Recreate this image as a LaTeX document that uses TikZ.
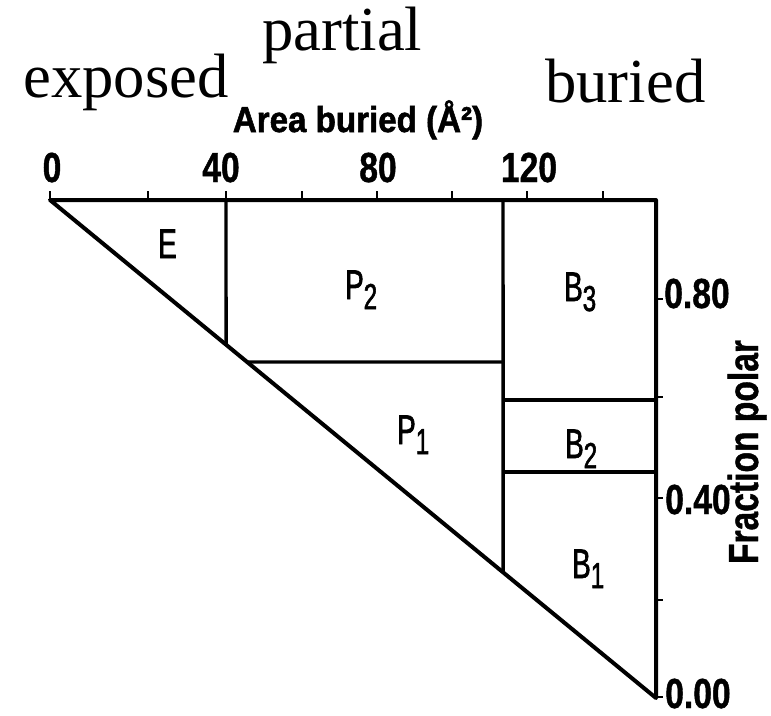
\documentclass[tikz,border=0pt]{standalone}
\usepackage{fontspec}
\setmainfont{Liberation Serif}
\newfontfamily\axfont[FakeStretch=0.8,FakeBold=1,UprightFont={* Bold}]{Liberation Sans}
\newfontfamily\areafont[FakeStretch=0.92,FakeBold=1.5,UprightFont={* Bold}]{Liberation Sans}
\newfontfamily\regfont[FakeStretch=0.67,FakeBold=1.6]{Liberation Sans}
\newcommand{\reglab}[2]{#1\raisebox{-7.5pt}{\fontsize{27}{27}\selectfont #2}}

\begin{document}
\begin{tikzpicture}[x=0.75pt, y=-0.75pt,
  word/.style={font=\fontsize{47}{47}\selectfont, inner sep=0pt, anchor=base west},
  tick/.style={font=\axfont\fontsize{31.5}{31.5}\selectfont, inner sep=0pt, anchor=base},
  rtick/.style={tick, anchor=base west},
  region/.style={font=\regfont\fontsize{31}{31}\selectfont, inner sep=0pt, anchor=base west},
  frame/.style={line width=3pt, line join=round},
  divide/.style={line width=2.6pt},
  tickline/.style={line width=1.6pt},
]

\useasboundingbox (0,0) rectangle (771,715);

% Outer triangle
\coordinate (O) at (50,200);
\coordinate (R) at (656,200);
\coordinate (S) at (656,698);
\draw[frame] (O) -- (R) -- (S) -- cycle;

% Exposed / partial boundary
\coordinate (eTop) at (226,200);
\coordinate (eLow) at (226,800);
\draw[divide] (eTop) -- (intersection of O--S and eTop--eLow);

% Partial / buried boundary
\coordinate (bTop) at (503,200);
\coordinate (bLow) at (503,800);
\draw[divide] (bTop) -- (intersection of O--S and bTop--bLow);

% P2 / P1
\coordinate (pFar) at (0,362);
\coordinate (pEnd) at (503,362);
\draw[divide] (intersection of O--S and pFar--pEnd) -- (pEnd);

% B3 / B2 / B1
\coordinate (b3L) at (503,400);
\coordinate (b3R) at (656,400);
\coordinate (b2L) at (503,472);
\coordinate (b2R) at (656,472);
\draw[divide] (b3L) -- (b3R);
\draw[divide] (b2L) -- (b2R);

% Ticks
\foreach \x in {50,148,226,302,377,452,527,603}
  \draw[tickline] (\x,200) -- (\x,191);
\foreach \y in {299,397,498,600,697}
  \draw[tickline] (656,\y) -- (663,\y);

% Top axis
\node[tick] (t0) at (52,182) {0};
\node[tick] (t40) at (221,182) {40};
\node[tick] (t80) at (378,182) {80};
\node[tick] (t120) at (529,182) {120};
\node[font=\areafont\fontsize{27}{27}\selectfont, inner sep=0pt, anchor=base]
  (area) at (358,132) {Area buried (Å²)};

% Right axis
\node[rtick] (f80) at (664,308) {0.80};
\node[rtick] (f40) at (665,514) {0.40};
\node[rtick] (f00) at (665,708) {0.00};
\node[tick, rotate=90] (fpol) at (758,452) {Fraction polar};

% Regions
\node[region] (E) at (158,258) {E};
\node[region] (P2) at (345,299) {\reglab{P}{2}};
\node[region] (B3) at (564,301) {\reglab{B}{3}};
\node[region] (P1) at (397,444) {\reglab{P}{1}};
\node[region] (B2) at (565,458) {\reglab{B}{2}};
\node[region] (B1) at (572,578) {\reglab{B}{1}};

% Classes
\node[word] (exp) at (23,97) {exposed};
\node[word] (par) at (262,50) {partial};
\node[word] (bur) at (545,102) {buried};

\end{tikzpicture}
\end{document}
